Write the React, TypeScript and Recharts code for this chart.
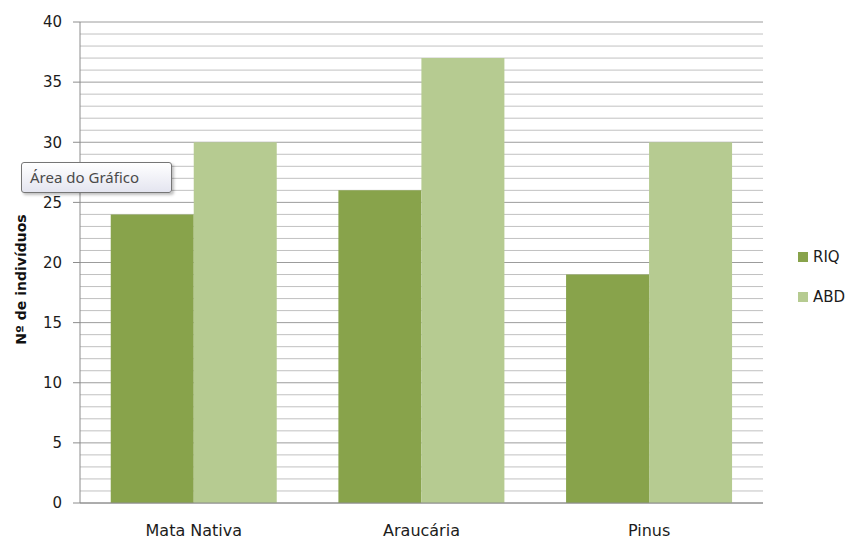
import { Bar, BarChart, CartesianGrid, ReferenceLine, XAxis, YAxis } from 'recharts';

// Contagem por área amostrada
const categories = ['Mata Nativa', 'Araucária', 'Pinus'];
const riq = [24, 26, 19];
const abd = [30, 37, 30];

const majorTicks = [0, 5, 10, 15, 20, 25, 30, 35, 40];
// linhas secundárias a cada unidade (as múltiplas de 5 ficam com a grade principal)
const minorTicks = Array.from({ length: 41 }, (_, i) => i).filter((v) => v % 5 !== 0);

const seriesNames = { riq: 'RIQ', abd: 'ABD' };
const colors = { riq: '#88a34b', abd: '#b6cb91' };

const data = categories.map((name, i) => ({ name, riq: riq[i], abd: abd[i] }));

const FONT = '"DejaVu Sans", Verdana, sans-serif';
const tickFont = { fontFamily: FONT, fontSize: 15, fill: '#1c1c1c' };

function AxisTitle(props: any) {
  const vb = props.viewBox || {};
  const cy = (vb.y ?? 0) + (vb.height ?? 0) / 2 + 17;
  return (
    <text
      x={21}
      y={cy}
      transform={`rotate(-90, 21, ${cy})`}
      textAnchor="middle"
      dominantBaseline="central"
      style={{ fontFamily: FONT, fontSize: 14, fontWeight: 'bold', fill: '#111' }}
    >
      Nº de indivíduos
    </text>
  );
}

function LegendBox() {
  const items: Array<'riq' | 'abd'> = ['riq', 'abd'];
  return (
    <div style={{ position: 'absolute', left: 798, top: 247, fontFamily: FONT, fontSize: 15, color: '#1c1c1c' }}>
      {items.map((k) => (
        <div key={k} style={{ display: 'flex', alignItems: 'center', height: 20, marginBottom: 20 }}>
          <span style={{ width: 10, height: 10, background: colors[k], display: 'inline-block', marginRight: 5 }} />
          <span>{seriesNames[k]}</span>
        </div>
      ))}
    </div>
  );
}

export default function App() {
  return (
    <div style={{ position: 'absolute', left: 0, top: 0, width: 851, height: 541, background: '#fff' }}>
      <BarChart
        width={851}
        height={541}
        data={data}
        margin={{ top: 22, right: 88, bottom: 0, left: 0 }}
        barCategoryGap="13.5%"
        barGap={0}
      >
        <CartesianGrid vertical={false} stroke="#9c9c9c" />
        {minorTicks.map((v) => (
          <ReferenceLine key={v} y={v} stroke="#c1c1c1" zIndex={-50} />
        ))}
        <XAxis
          dataKey="name"
          height={38}
          axisLine={{ stroke: '#8c8c8c' }}
          tickLine={false}
          tickSize={0}
          tickMargin={22}
          tick={{ ...tickFont, fontSize: 16 }}
          interval={0}
        />
        <YAxis
          domain={[0, 40]}
          ticks={majorTicks}
          interval={0}
          width={80}
          axisLine={{ stroke: '#8c8c8c' }}
          tickLine={{ stroke: '#8c8c8c' }}
          tickSize={7}
          tickMargin={11}
          tick={tickFont}
          label={<AxisTitle />}
        />
        <Bar dataKey="riq" name={seriesNames.riq} fill={colors.riq} isAnimationActive={false} />
        <Bar dataKey="abd" name={seriesNames.abd} fill={colors.abd} isAnimationActive={false} />
      </BarChart>
      <LegendBox />
      <div
        style={{
          position: 'absolute',
          left: 21,
          top: 162,
          width: 151,
          height: 31,
          boxSizing: 'border-box',
          border: '1px solid #767676',
          borderRadius: 3,
          background: 'linear-gradient(#ffffff, #e4e5f0)',
          boxShadow: '2px 2px 3px rgba(0,0,0,0.25)',
          fontFamily: '"Noto Sans", "Open Sans", sans-serif',
          fontSize: 15,
          color: '#4a4a4a',
          lineHeight: '29px',
          paddingLeft: 8,
          whiteSpace: 'nowrap',
        }}
      >
        Área do Gráfico
      </div>
    </div>
  );
}
